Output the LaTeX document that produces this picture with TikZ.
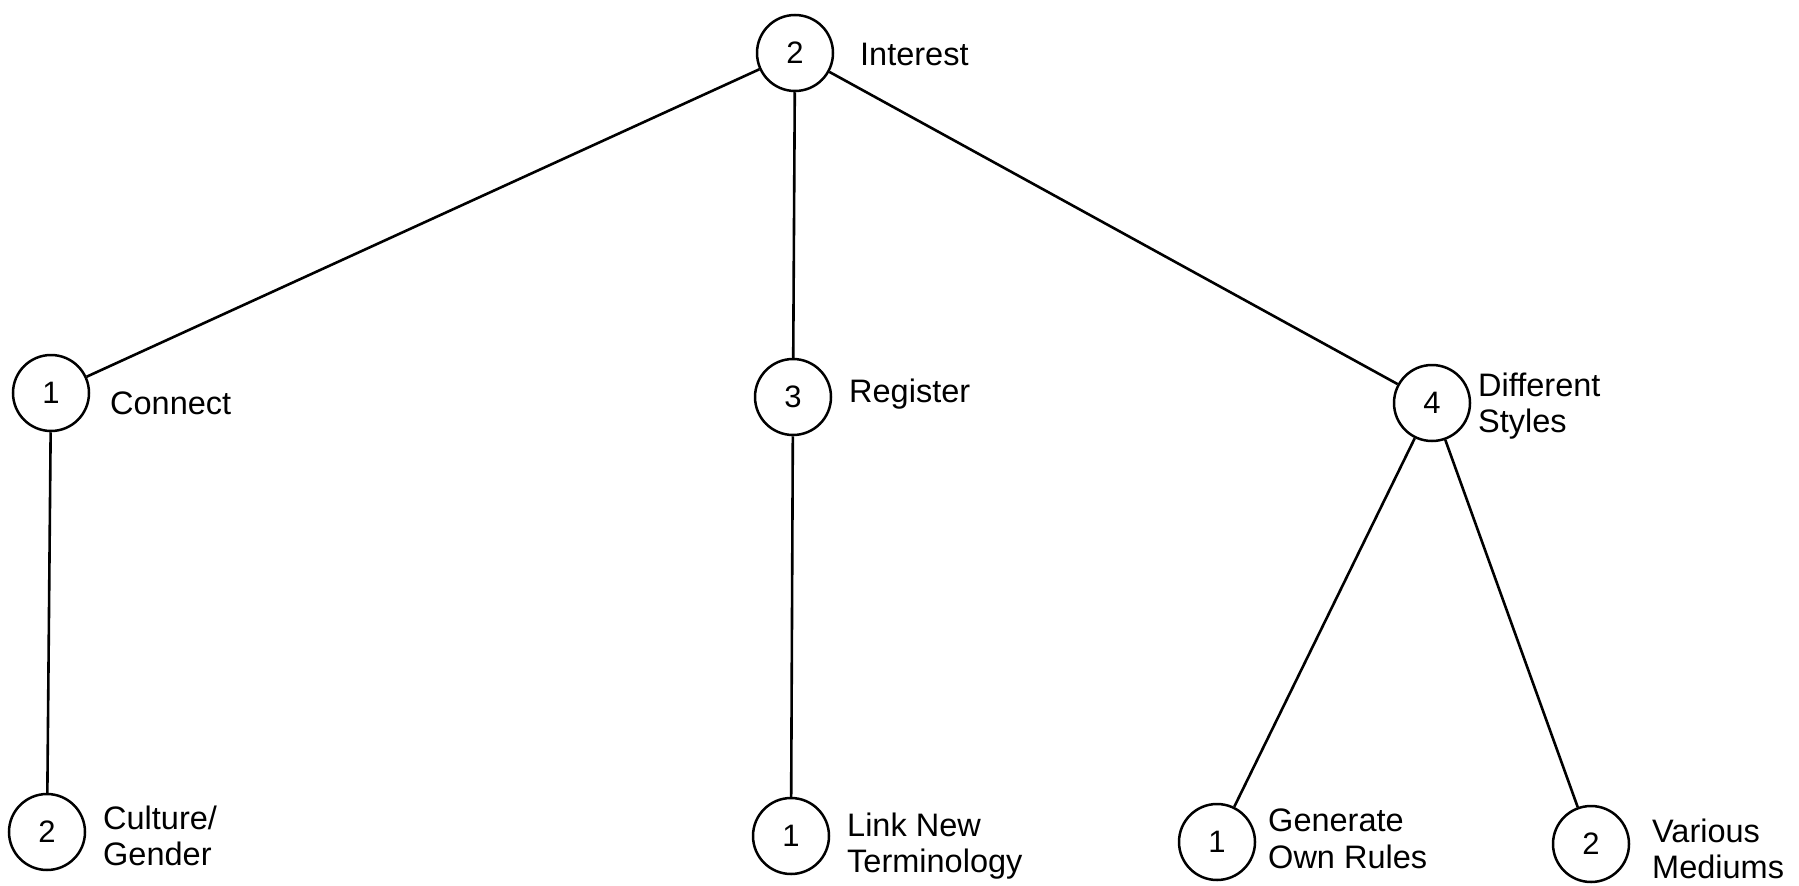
\documentclass[tikz,border=0pt]{standalone}
\usepackage{fontspec}
\setmainfont{Liberation Sans}
\begin{document}
\begin{tikzpicture}[x=1pt,y=-1pt,
  topic/.style={circle,draw,line width=2.5pt,minimum size=76pt,inner sep=0pt,
    font=\fontsize{31}{36}\selectfont},
  caption/.style={anchor=west,inner sep=0pt,align=left,
    font=\fontsize{32.5}{36.5}\selectfont},
  link/.style={line width=2.6pt}]
\useasboundingbox (0,0) rectangle (1799,886);
\fill[white] (0,0) rectangle (1799,886);

% weighted topics
\node[topic] (interest) at (795,53) {2};
\node[topic] (connect) at (51,393) {1};
\node[topic] (register) at (793,397) {3};
\node[topic] (styles) at (1432,403) {4};
\node[topic] (culture) at (47,832) {2};
\node[topic] (terms) at (791,836) {1};
\node[topic] (rules) at (1217,842) {1};
\node[topic] (mediums) at (1591,844) {2};

% topic names
\node[caption] (interestT) at (860,54) {Interest};
\node[caption] (connectT) at (110,403) {Connect};
\node[caption] (registerT) at (849,394) {Register};
\node[caption] (stylesT) at (1478,406) {Different\\Styles};
\node[caption] (cultureT) at (103,836) {Culture/\\Gender};
\node[caption] (termsT) at (847,846) {Link New\\Terminology};
\node[caption] (rulesT) at (1268,839) {Generate\\Own Rules};
\node[caption] (mediumsT) at (1652,849) {Various\\Mediums};

% tree edges
\draw[link] (interest) -- (connect);
\draw[link] (interest) -- (register);
\draw[link] (interest) -- (styles);
\draw[link] (connect) -- (culture);
\draw[link] (register) -- (terms);
\draw[link] (styles) -- (rules);
\draw[link] (styles) -- (mediums);
\end{tikzpicture}
\end{document}
